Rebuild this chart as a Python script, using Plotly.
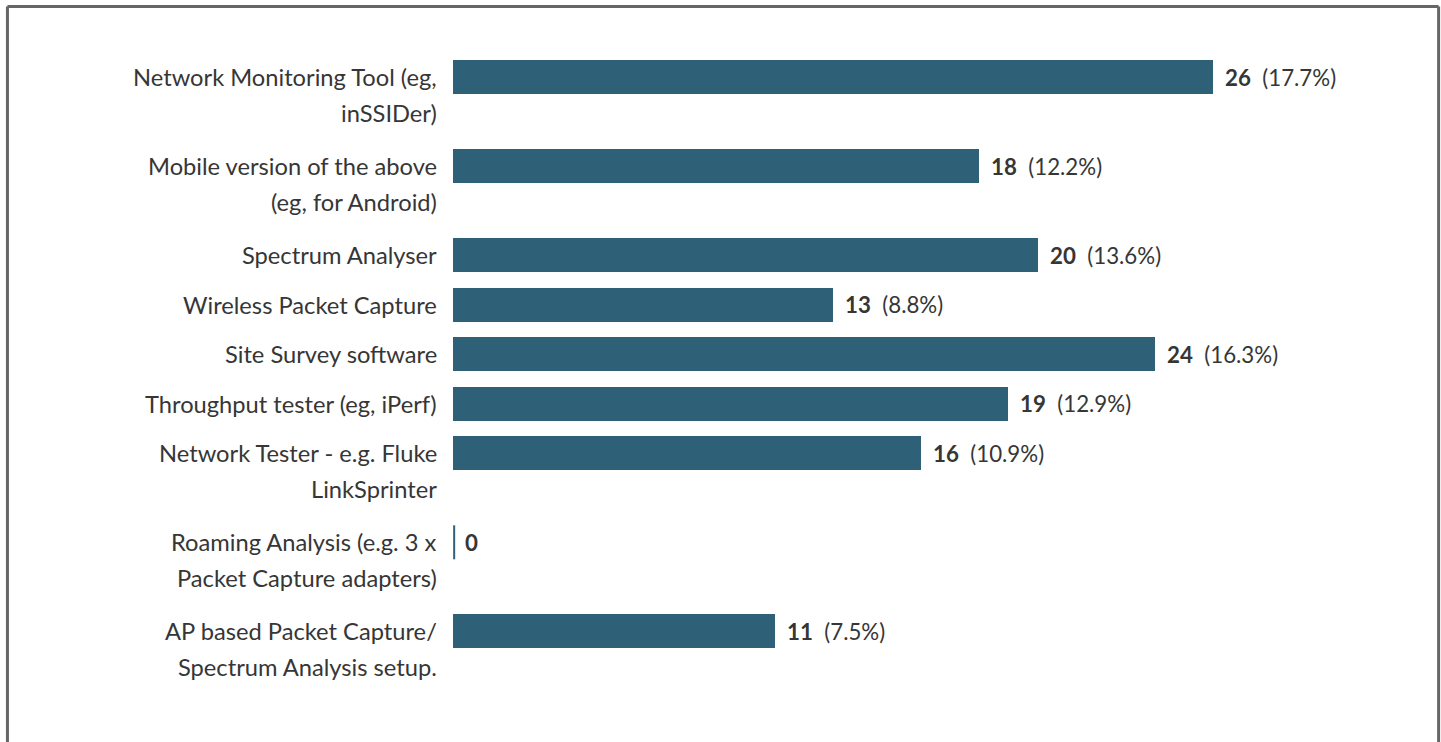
import plotly.graph_objects as go

categories = [
    ["Network Monitoring Tool (eg,", "inSSIDer)"],
    ["Mobile version of the above", "(eg, for Android)"],
    ["Spectrum Analyser"],
    ["Wireless Packet Capture"],
    ["Site Survey software"],
    ["Throughput tester (eg, iPerf)"],
    ["Network Tester - e.g. Fluke", "LinkSprinter"],
    ["Roaming Analysis (e.g. 3 x", "Packet Capture adapters)"],
    ["AP based Packet Capture/", "Spectrum Analysis setup."],
]
counts = [26, 18, 20, 13, 24, 19, 16, 0, 11]
percents = ["17.7%", "12.2%", "13.6%", "8.8%", "16.3%", "12.9%", "10.9%", "", "7.5%"]

BAR_COLOR = "#2e6077"
TEXT_COLOR = "#363636"
FONT = "Lato"
FS = 23.7
FS_VAL = 22.3
LINE_PX = 36
ROW_PX = 49.5
EXTRA_LINE = 0.8  # extra slot height per wrapped line, in row units

# row positions based on the number of label lines
positions = []
pos = 0.0
for lines in categories:
    positions.append(pos)
    pos += 1 + EXTRA_LINE * (len(lines) - 1)

W, H = 1441, 742
ML = 453
PX_PER_UNIT = 29.23
XMAX = 30
MR = W - ML - XMAX * PX_PER_UNIT
TOP_CENTER_PX = 77
ymin = -TOP_CENTER_PX / ROW_PX
ymax = ymin + H / ROW_PX
BAR_W = 34 / ROW_PX

fig = go.Figure()
fig.add_trace(go.Bar(
    x=counts, y=positions, orientation="h", width=BAR_W,
    marker=dict(color=BAR_COLOR, line=dict(width=0)),
    hoverinfo="skip", showlegend=False,
))

annotations = []
for lines, p in zip(categories, positions):
    for k, line in enumerate(lines):
        annotations.append(dict(
            x=0, y=p, xref="paper", yref="y", text=line,
            xanchor="right", yanchor="middle", xshift=-14, yshift=-LINE_PX * k,
            showarrow=False, font=dict(family=FONT, size=FS, color=TEXT_COLOR),
        ))

shapes = []
for c, pct, p in zip(counts, percents, positions):
    txt = f"<b>{c}</b>"
    if pct:
        txt += "\u00a0\u00a0(" + pct + ")"
    annotations.append(dict(
        x=c, y=p, xref="x", yref="y", text=txt,
        xanchor="left", yanchor="middle", xshift=10,
        showarrow=False, font=dict(family=FONT, size=FS_VAL, color=TEXT_COLOR),
    ))
    if c == 0:
        shapes.append(dict(
            type="line", xref="x", yref="y", x0=c + 0.04, x1=c + 0.04,
            y0=p - BAR_W / 2, y1=p + BAR_W / 2,
            line=dict(color=BAR_COLOR, width=2),
        ))

# frame
fx0 = (7.5 - ML) / (XMAX * PX_PER_UNIT)
fx1 = (1438.5 - ML) / (XMAX * PX_PER_UNIT)
fy_top = 1 - 6.5 / H
for (x0, y0, x1, y1) in [(fx0, fy_top, fx1, fy_top), (fx0, fy_top, fx0, -0.1), (fx1, fy_top, fx1, -0.1)]:
    shapes.append(dict(type="line", xref="paper", yref="paper", x0=x0, y0=y0, x1=x1, y1=y1,
                       line=dict(color="#666666", width=3)))

fig.update_layout(
    width=W, height=H,
    margin=dict(l=ML, r=MR, t=0, b=0, pad=0),
    paper_bgcolor="white", plot_bgcolor="white",
    xaxis=dict(range=[0, XMAX], visible=False, fixedrange=True),
    yaxis=dict(range=[ymax, ymin], visible=False, fixedrange=True),
    annotations=annotations, shapes=shapes,
    font=dict(family=FONT, color=TEXT_COLOR),
    bargap=0,
)

fig.write_html(
    "out.html", include_plotlyjs=True, config={"displayModeBar": False},
    post_script="document.body.style.margin='0';document.body.style.overflow='hidden';",
)
